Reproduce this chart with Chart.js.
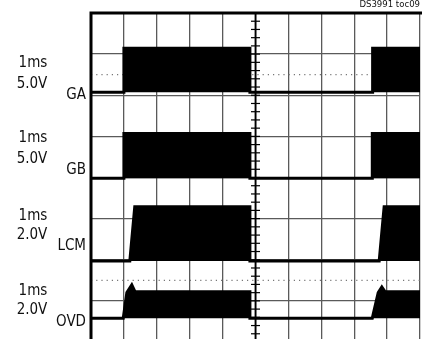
<!DOCTYPE html>
<html><head><meta charset="utf-8">
<script src="https://cdn.jsdelivr.net/npm/chart.js@4/dist/chart.umd.min.js"></script>
<style>html,body{margin:0;padding:0;background:#fff;overflow:hidden}#wrap{width:422px;height:339px;position:relative}</style>
</head><body><div id="wrap"><canvas id="c" width="422" height="339"></canvas></div>
<script>
// ---- data (x in time divisions 0..10, y in vertical divisions 0..8 from bottom) ----
const channels   = ["GA", "GB", "LCM", "OVD"];
const timeScales = ["1ms", "1ms", "1ms", "1ms"];
const voltScales = ["5.0V", "5.0V", "2.0V", "2.0V"];
const noteText   = "DS3991 toc09";

const gaX  = [0, 1.0, 1.0, 4.83, 4.83, 8.56, 8.56, 10];
const gaY  = [6.07, 6.07, 7.14, 7.14, 6.07, 6.07, 7.14, 7.14];
const gaLow = 6.07;

const gbX  = [0, 1.0, 1.0, 4.83, 4.83, 8.55, 8.55, 10];
const gbY  = [3.98, 3.98, 5.07, 5.07, 3.98, 3.98, 5.07, 5.07];
const gbLow = 3.98;

const lcmX = [0, 1.18, 1.33, 4.83, 4.83, 8.76, 8.91, 10];
const lcmY = [1.97, 1.97, 3.29, 3.29, 1.97, 1.97, 3.29, 3.29];
const lcmLow = 1.97;

const ovdX = [0, 0.98, 1.09, 1.24, 1.34, 4.83, 4.83, 8.55, 8.73, 8.84, 8.94, 10];
const ovdY = [0.58, 0.58, 1.20, 1.39, 1.22, 1.22, 0.58, 0.58, 1.20, 1.34, 1.22, 1.22];
const ovdLow = 0.58;

const dotLevels = [6.5, 1.5];

const xTicks = [0,1,2,3,4,5,6,7,8,9,10];
const yTicks = [1,2,3,4,5,6,7,8];

function pts(xs, ys){ return xs.map((x,i)=>({x:x, y:ys[i]})); }

function trace(label, xs, ys, low){
  return {label, data: pts(xs, ys), borderColor:'#000', backgroundColor:'#000',
    borderWidth:3, pointRadius:0, tension:0, fill:{value:low}, order:1};
}
const datasets = [
  trace(channels[0], gaX, gaY, gaLow),
  trace(channels[1], gbX, gbY, gbLow),
  trace(channels[2], lcmX, lcmY, lcmLow),
  trace(channels[3], ovdX, ovdY, ovdLow),
];
dotLevels.forEach(v=>{
  datasets.push({label:'ref', data:[{x:0,y:v},{x:10,y:v}], borderColor:'#777',
    borderWidth:1.2, borderDash:[1.2,4], pointRadius:0, fill:false, order:10});
});

const FONT = "'Liberation Sans Narrow','DejaVu Sans Condensed','Liberation Sans',sans-serif";

const scopePlugin = {
  id:'scope',
  afterDraw(chart){
    const {ctx, chartArea:a, scales:{x, y}} = chart;
    ctx.save();
    // frame (top & left)
    ctx.strokeStyle = '#000'; ctx.lineWidth = 3;
    ctx.beginPath();
    ctx.moveTo(x.getPixelForValue(0), a.bottom);
    ctx.lineTo(x.getPixelForValue(0), y.getPixelForValue(8));
    ctx.lineTo(a.right + 2, y.getPixelForValue(8));
    ctx.stroke();
    // centre axis with minor ticks
    const cx = x.getPixelForValue(5);
    ctx.lineWidth = 1.8;
    ctx.beginPath(); ctx.moveTo(cx, y.getPixelForValue(8)); ctx.lineTo(cx, a.bottom); ctx.stroke();
    ctx.lineWidth = 1.2;
    for (let k = 1; k < 40; k++) {
      const py = y.getPixelForValue(8 - k*0.2);
      if (py > a.bottom) break;
      ctx.beginPath(); ctx.moveTo(cx-4.5, py); ctx.lineTo(cx+4.5, py); ctx.stroke();
    }
    // labels
    ctx.fillStyle = '#111';
    const rows = [[63,84,95],[138,159,170],[216,235,246],[291,310,322]];
    ctx.textBaseline = 'middle';
    rows.forEach((r,i)=>{
      ctx.font = "15px " + FONT;
      ctx.textAlign = 'center';
      ctx.fillText(timeScales[i], 33, r[0]);
      ctx.fillText(voltScales[i], 32, r[1]);
      ctx.textAlign = 'right';
      ctx.fillText(channels[i], 86, r[2]);
    });
    ctx.font = "9.5px " + FONT;
    ctx.textAlign = 'right';
    ctx.textBaseline = 'middle';
    ctx.fillText(noteText, 420, 5);
    ctx.restore();
  }
};

new Chart(document.getElementById('c'), {
  type:'line',
  data:{datasets},
  options:{
    responsive:false, animation:false, devicePixelRatio:1,
    layout:{padding:{left:91, top:13, right:2, bottom:0}},
    plugins:{legend:{display:false}, tooltip:{enabled:false}},
    scales:{
      x:{type:'linear', min:0, max:10,
        afterBuildTicks:s=>{s.ticks = xTicks.map(v=>({value:v}));},
        ticks:{display:false}, border:{display:false},
        grid:{color:'#5a5a5a', lineWidth:1.3, drawTicks:false}},
      y:{type:'linear', min:0.073, max:8,
        afterBuildTicks:s=>{s.ticks = yTicks.map(v=>({value:v}));},
        ticks:{display:false}, border:{display:false},
        grid:{color:'#5a5a5a', lineWidth:1.3, drawTicks:false}}
    }
  },
  plugins:[scopePlugin]
});
</script></body></html>
